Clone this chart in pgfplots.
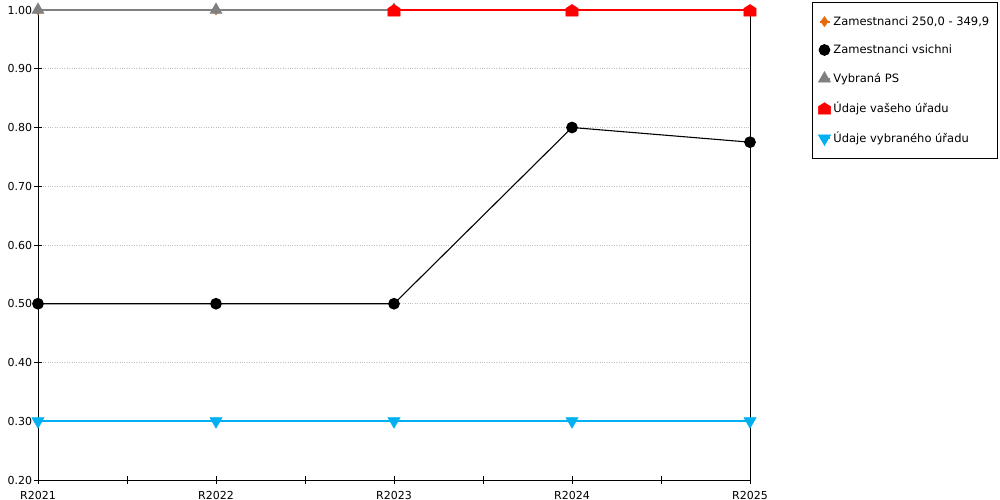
\documentclass[border=0pt]{standalone}
\usepackage{pgfplots}
\pgfplotsset{compat=1.18}
\usepackage{fontspec}
\setmainfont{DejaVu Sans}
\definecolor{cOrange}{HTML}{E46C0A}
\definecolor{cGrey}{HTML}{808080}
\definecolor{cRed}{HTML}{FF0000}
\definecolor{cCyan}{HTML}{00B0F0}
\definecolor{cGrid}{HTML}{C0C0C0}
\pgfdeclareplotmark{house}{%
  \pgfpathmoveto{\pgfqpoint{-1.1\pgfplotmarksize}{-1.1\pgfplotmarksize}}%
  \pgfpathlineto{\pgfqpoint{1.1\pgfplotmarksize}{-1.1\pgfplotmarksize}}%
  \pgfpathlineto{\pgfqpoint{1.1\pgfplotmarksize}{0.3\pgfplotmarksize}}%
  \pgfpathlineto{\pgfqpoint{0pt}{1.0\pgfplotmarksize}}%
  \pgfpathlineto{\pgfqpoint{-1.1\pgfplotmarksize}{0.3\pgfplotmarksize}}%
  \pgfpathclose
  \pgfusepathqfillstroke}
\begin{document}
\fontsize{11pt}{13pt}\selectfont
\begin{tikzpicture}[x=1pt,y=1pt]
\useasboundingbox (0,0) rectangle (1000,500);
\begin{axis}[
  at={(38pt,20pt)}, anchor=south west,
  scale only axis, width=712pt, height=470pt,
  xmin=0, xmax=4, ymin=0.2, ymax=1.0,
  xtick={0,1,2,3,4},
  xticklabels={R2021,R2022,R2023,R2024,R2025},
  minor xtick={0.5,1.5,2.5,3.5},
  ytick={0.2,0.3,0.4,0.5,0.6,0.7,0.8,0.9,1.0},
  yticklabel style={/pgf/number format/fixed,/pgf/number format/fixed zerofill,/pgf/number format/precision=2},
  /pgf/number format/assume math mode=true,
  xtick pos=bottom, ytick pos=left,
  tick align=center,
  major tick length=8pt, minor tick length=8pt,
  tick style={black, line width=0.8pt},
  axis line style={black, line width=0.9pt},
  ymajorgrids,
  major grid style={cGrid, dotted, line width=0.8pt},
  xticklabel style={font=\fontsize{11pt}{13pt}\selectfont, yshift=-3pt},
  yticklabel style={font=\fontsize{11pt}{13pt}\selectfont, xshift=2pt},
  clip=false,
  legend cell align=left,
  legend style={at={(812pt-38pt,478pt)}, anchor=north west,
    font=\fontsize{11.5pt}{13pt}\selectfont,
    draw=black, line width=0.8pt, inner xsep=6pt, inner ysep=12pt,
    row sep=14pt, cells={anchor=west}},
  legend image code/.code={\path[#1] plot coordinates {(4pt,0pt)};\path (0pt,0pt) -- (10pt,0pt);},
]
\addplot[cOrange, line width=2pt, mark=diamond*, mark size=5pt, mark options={fill=cOrange, draw=cOrange, line width=0.5pt}]
  coordinates {(0,1.0) (1,1.0)};
\addlegendentry{Zamestnanci 250,0 - 349,9}
\addplot[black, line width=1.1pt, mark=*, mark size=5.3pt, mark options={fill=black, draw=black}]
  coordinates {(0,0.5) (1,0.5) (2,0.5) (3,0.8) (4,0.775)};
\addlegendentry{Zamestnanci vsichni}
\addplot[cGrey, line width=2pt, mark=triangle*, mark size=7pt, mark options={fill=cGrey, draw=cGrey, line width=0.5pt}]
  coordinates {(0,1.0) (1,1.0) (2,1.0)};
\addlegendentry{Vybraná PS}
\addplot[cRed, line width=2pt, mark=house, mark size=5.5pt, mark options={fill=cRed, draw=cRed, line width=0.5pt}]
  coordinates {(2,1.0) (3,1.0) (4,1.0)};
\addlegendentry{Údaje vašeho úřadu}
\addplot[cCyan, line width=2pt, mark=triangle*, mark size=7pt, mark options={fill=cCyan, draw=cCyan, rotate=180, line width=0.5pt}]
  coordinates {(0,0.3) (1,0.3) (2,0.3) (3,0.3) (4,0.3)};
\addlegendentry{Údaje vybraného úřadu}
\end{axis}
\end{tikzpicture}
\end{document}
